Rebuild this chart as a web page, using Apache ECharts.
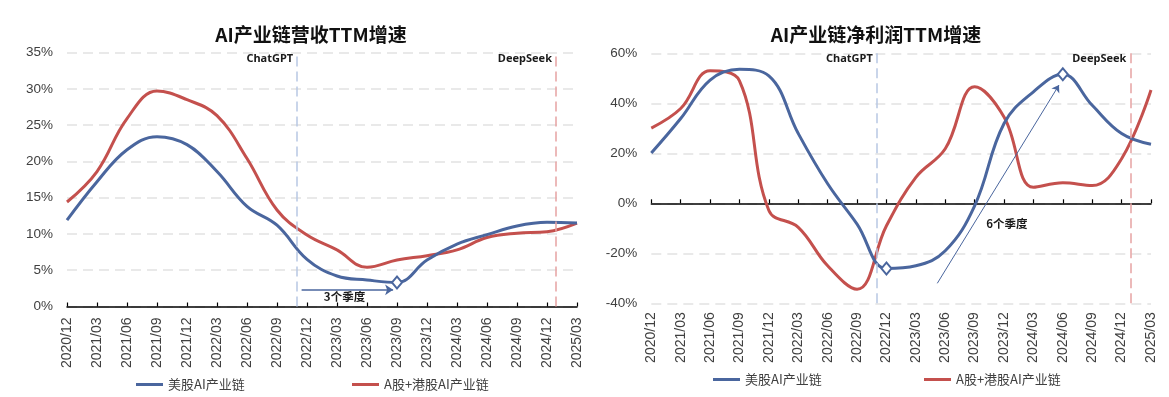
<!DOCTYPE html>
<html>
<head>
<meta charset="utf-8">
<script src="https://cdn.jsdelivr.net/npm/echarts@6/dist/echarts.min.js"></script>
<style>html,body{margin:0;padding:0;background:#fff;}#c{width:1169px;height:397px;}</style>
</head>
<body>
<div id="c"></div>
<script>
const categories = ['2020/12','2021/03','2021/06','2021/09','2021/12','2022/03','2022/06','2022/09','2022/12','2023/03','2023/06','2023/09','2023/12','2024/03','2024/06','2024/09','2024/12','2025/03'];
const revenueUS = [11.9,17.2,21.6,23.4,22.3,18.6,13.8,11.2,6.5,4.2,3.65,3.3,6.4,8.6,9.9,11.1,11.6,11.5];
const revenueCN = [14.4,18.6,25.9,29.7,28.5,26.3,20.4,13.3,9.85,7.8,5.4,6.4,7.0,7.8,9.5,10.1,10.3,11.5];
const profitUS = [20.1,33.9,49.3,53.6,51.0,27.9,7.8,-8.3,-26.1,-25.0,-19.0,-1.0,31.9,44.6,51.6,39.2,27.9,23.6];
const profitCN = [30.1,37.9,53.0,49.0,-2.9,-9.6,-25.0,-34.4,-9.0,10.4,21.8,46.6,34.5,6.4,8.2,7.1,17.8,45.3];
const revenueTicks = [0,35,5];
const profitTicks = [-40,60,20];
const seriesNames = ['美股AI产业链','A股+港股AI产业链'];
const events = [{name:'ChatGPT', at:7.67}, {name:'DeepSeek', at:16.3}];
const revenueLagLabel = '3个季度';
const profitLagLabel = '6个季度';

const BLUE = '#4a669e', RED = '#c4504d';
const pairs = arr => arr.map((v,i)=>[i,v]);
const labelFont = 'Liberation Sans';
const cjk = 'Noto Sans CJK SC';

function valueXAxis(grid, extra){
  return Object.assign({
    type:'value', gridIndex:grid, min:0, max:categories.length-1, interval:1,
    splitLine:{show:false},
    axisLine:{show:true, onZero:true, lineStyle:{color:'#000', width:1.5}},
    axisTick:{show:true, inside:true, length:4, lineStyle:{color:'#000', width:1.2}},
    axisLabel:{show:true, rotate:90, margin:11, fontSize:14, fontFamily:labelFont, color:'#404040',
      formatter: v => categories[Math.round(v)] || ''}
  }, extra||{});
}
function yAx(grid, t){
  return {type:'value', gridIndex:grid, min:t[0], max:t[1], interval:t[2],
    axisLine:{show:false}, axisTick:{show:false},
    axisLabel:{formatter:'{value}%', fontSize:13.5, fontFamily:labelFont, color:'#404040', margin:14},
    splitLine:{show:true, lineStyle:{color:'#e2e2e2', type:[10,6], width:1.5}}};
}
function eventLines(){
  return {silent:true, symbol:['none','none'], label:{show:false},
    data: events.map((e,i)=>({xAxis:e.at, lineStyle:{color: i===0 ? '#b8c8e4' : '#e6a3a3', type:[10,5], width:1.5}}))};
}
function eventLabels(top){
  return events.map(e=>({coord:[e.at, top], symbol:'rect', symbolSize:0,
    label:{show:true, position:'left', distance:4, offset:[0,6], formatter:e.name,
      fontSize:11, fontWeight:'bold', fontFamily:'Noto Sans', color:'#1a1a1a'}}));
}
function diamond(x,y){
  return {coord:[x,y], symbol:'diamond', symbolSize:[10,12],
    itemStyle:{color:'#fff', borderColor:BLUE, borderWidth:2}, label:{show:false}};
}
function textPoint(x,y,txt){
  return {coord:[x,y], symbol:'rect', symbolSize:0,
    label:{show:true, position:'inside', formatter:txt, fontSize:11.5, fontWeight:'bold', fontFamily:cjk, color:'#1a1a1a'}};
}
const lineBase = {type:'line', smooth:0.4, showSymbol:false, symbol:'none', lineStyle:{width:3}};

const chart = echarts.init(document.getElementById('c'));
chart.setOption({
  animation:false,
  backgroundColor:'#fff',
  graphic:[
    {type:'text', x:311, y:35, style:{text:'AI产业链营收TTM增速', font:'bold 19px "Noto Sans CJK SC"', fill:'#111', align:'center', verticalAlign:'middle', textAlign:'center', textVerticalAlign:'middle'}},
    {type:'text', x:876, y:35, style:{text:'AI产业链净利润TTM增速', font:'bold 19px "Noto Sans CJK SC"', fill:'#111', align:'center', verticalAlign:'middle', textAlign:'center', textVerticalAlign:'middle'}}
  ],
  legend:[
    {data:[seriesNames[0]], left:131, top:373},
    {data:[seriesNames[1]], left:347, top:373},
    {data:[seriesNames[0]], left:708, top:368},
    {data:[seriesNames[1]], left:919, top:368}
  ].map(l=>Object.assign(l,{icon:'rect', itemWidth:27, itemHeight:3, selectedMode:false,
      textStyle:{fontSize:13, fontFamily:cjk, color:'#404040'}})),
  grid:[
    {left:67, top:52.5, width:510, height:254},
    {left:651.3, top:53.3, width:499.7, height:250}
  ],
  xAxis:[
    valueXAxis(0),
    valueXAxis(1, {position:'bottom', axisLine:{show:false, onZero:false}, axisTick:{show:false},
      axisLabel:{show:true, rotate:90, margin:9, fontSize:14, fontFamily:labelFont, color:'#404040', formatter: v => categories[Math.round(v)] || ''}}),
    valueXAxis(1, {position:'bottom', axisLabel:{show:false}})
  ],
  yAxis:[ yAx(0, revenueTicks), yAx(1, profitTicks) ],
  series:[
    Object.assign({}, lineBase, {name:seriesNames[0], xAxisIndex:0, yAxisIndex:0, data:pairs(revenueUS), color:BLUE,
      lineStyle:{width:3, color:BLUE}, z:3,
      markLine: eventLines(),
      markPoint:{data:[diamond(11, revenueUS[11])].concat(eventLabels(revenueTicks[1]))}}),
    Object.assign({}, lineBase, {name:seriesNames[1], xAxisIndex:0, yAxisIndex:0, data:pairs(revenueCN), color:RED,
      lineStyle:{width:3, color:RED}, z:2,
      markLine:{silent:true, symbol:['none','arrow'], symbolSize:8, label:{show:false},
        lineStyle:{color:BLUE, type:'solid', width:1.5},
        data:[[{coord:[7.82,2.3]},{coord:[10.87,2.3]}]]},
      markPoint:{data:[textPoint(9.25,1.35,revenueLagLabel)]}}),
    Object.assign({}, lineBase, {name:seriesNames[0], xAxisIndex:1, yAxisIndex:1, data:pairs(profitUS), color:BLUE,
      lineStyle:{width:3, color:BLUE}, z:3,
      markLine: eventLines(),
      markPoint:{data:[diamond(8, profitUS[8]), diamond(14, profitUS[14])].concat(eventLabels(profitTicks[1]))}}),
    Object.assign({}, lineBase, {name:seriesNames[1], xAxisIndex:1, yAxisIndex:1, data:pairs(profitCN), color:RED,
      lineStyle:{width:3, color:RED}, z:2,
      markLine:{silent:true, symbol:['none','arrow'], symbolSize:7, label:{show:false},
        lineStyle:{color:BLUE, type:'solid', width:1},
        data:[[{coord:[9.73,-32]},{coord:[13.87,47.3]}]]},
      markPoint:{data:[textPoint(12.1,-8,profitLagLabel)]}})
  ]
});
</script>
</body>
</html>
